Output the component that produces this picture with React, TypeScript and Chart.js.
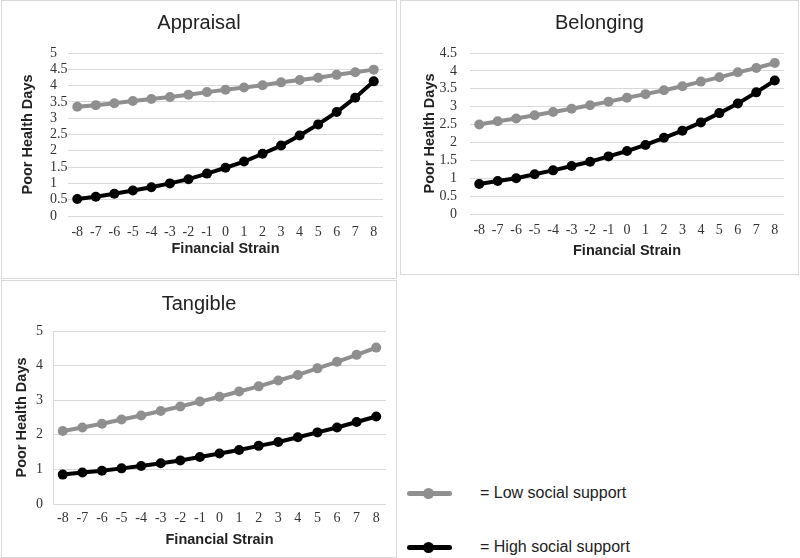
import React, { useEffect, useRef } from 'react';
import { Chart, registerables } from 'chart.js';
Chart.register(...registerables);

const categories = ['-8', '-7', '-6', '-5', '-4', '-3', '-2', '-1', '0', '1', '2', '3', '4', '5', '6', '7', '8'];

const appraisalLow = [3.35, 3.40, 3.46, 3.53, 3.59, 3.65, 3.72, 3.80, 3.87, 3.94, 4.01, 4.10, 4.17, 4.24, 4.33, 4.41, 4.49];
const appraisalHigh = [0.52, 0.59, 0.68, 0.78, 0.88, 1.00, 1.13, 1.30, 1.48, 1.67, 1.91, 2.16, 2.47, 2.81, 3.19, 3.63, 4.13];
const belongingLow = [2.50, 2.59, 2.67, 2.76, 2.85, 2.94, 3.04, 3.14, 3.25, 3.35, 3.46, 3.57, 3.70, 3.82, 3.96, 4.08, 4.22];
const belongingHigh = [0.84, 0.92, 1.00, 1.11, 1.22, 1.34, 1.46, 1.61, 1.76, 1.93, 2.13, 2.33, 2.56, 2.82, 3.09, 3.40, 3.73];
const tangibleLow = [2.11, 2.21, 2.32, 2.44, 2.56, 2.69, 2.82, 2.96, 3.10, 3.25, 3.40, 3.57, 3.73, 3.92, 4.11, 4.31, 4.52];
const tangibleHigh = [0.85, 0.91, 0.96, 1.03, 1.10, 1.18, 1.26, 1.36, 1.46, 1.56, 1.68, 1.79, 1.93, 2.07, 2.21, 2.37, 2.53];

const seriesNames = ['Low social support', 'High social support'];
const xTitle = 'Financial Strain';
const yTitle = 'Poor Health Days';

const GRAY = '#8f8f8f';
const BLACK = '#000000';
const GRID = '#d9d9d9';
const TEXT = '#222222';
const SANS = '"Liberation Sans", Arial, sans-serif';
const SERIF = '"Liberation Serif", "Times New Roman", serif';
const TICK_SIZE = 14;

type Box = { x: number; y: number; w: number; h: number };
type Plot = { l: number; r: number; t: number; b: number };

type PanelProps = {
  title: string;
  low: number[];
  high: number[];
  yMax: number;
  yStep: number;
  box: Box;
  plot: Plot;
  titleY: number;
  yTitleX: number;
  yLabelAlign: 'left' | 'right';
  yLabelEdge: number;
  xTickY: number;
  xTitleY: number;
  yBorder: boolean;
};

function Panel(p: PanelProps) {
  const ref = useRef<HTMLCanvasElement>(null);
  useEffect(() => {
    const titleLH = 20 * 1.2;
    const axisLH = 14.5 * 1.2;
    const tickLH = TICK_SIZE * 1.2;
    const boundary = p.yLabelAlign === 'left' ? p.yLabelEdge : p.yTitleX + 10;
    const ds = (label: string, data: number[], color: string) => ({
      label,
      data,
      xAxisID: 'x',
      yAxisID: 'y',
      borderColor: color,
      backgroundColor: color,
      pointBackgroundColor: color,
      pointBorderColor: color,
      borderWidth: 4,
      pointRadius: 5,
      pointBorderWidth: 0,
      tension: 0,
    });
    const chart = new Chart(ref.current as HTMLCanvasElement, {
      type: 'line',
      data: {
        labels: categories,
        datasets: [ds(seriesNames[0], p.low, GRAY), ds(seriesNames[1], p.high, BLACK)],
      },
      options: {
        responsive: false,
        maintainAspectRatio: false,
        animation: false,
        layout: { padding: 0 },
        plugins: {
          legend: { display: false },
          tooltip: { enabled: false },
          title: {
            display: true,
            text: p.title,
            color: TEXT,
            font: { family: SANS, size: 20, weight: 'normal', lineHeight: 1.2 },
            padding: { top: p.titleY - p.box.y - titleLH / 2, bottom: p.plot.t - p.titleY - titleLH / 2 },
          },
        },
        scales: {
          x: {
            type: 'category',
            offset: true,
            grid: { display: false, drawTicks: false },
            border: { display: false },
            ticks: {
              font: { family: SERIF, size: TICK_SIZE, lineHeight: 1.2 },
              color: '#333333',
              padding: p.xTickY - p.plot.b - tickLH / 2,
              maxRotation: 0,
              autoSkip: false,
            },
            title: {
              display: true,
              text: xTitle,
              color: TEXT,
              font: { family: SANS, size: 14.5, weight: 'bold', lineHeight: 1.2 },
              padding: { top: 0, bottom: p.box.y + p.box.h - p.xTitleY - axisLH / 2 },
            },
            afterFit: (s: any) => {
              s.height = p.box.y + p.box.h - p.plot.b;
            },
          },
          y: {
            type: 'linear',
            position: 'left',
            weight: 0,
            min: 0,
            max: p.yMax,
            grid: { color: GRID, lineWidth: 1, drawTicks: false },
            border: { display: p.yBorder, color: GRID, width: 1 },
            ticks: {
              stepSize: p.yStep,
              autoSkip: false,
              maxTicksLimit: 50,
              font: { family: SERIF, size: TICK_SIZE, lineHeight: 1.2 },
              color: '#333333',
              crossAlign: p.yLabelAlign === 'left' ? 'far' : 'near',
              padding: p.yLabelAlign === 'left' ? 0 : p.plot.l - p.yLabelEdge,
              callback: (v: any) => String(v),
            },
            afterFit: (s: any) => {
              s.width = p.plot.l - boundary;
            },
          },
          yT: {
            type: 'linear',
            position: 'left',
            weight: 1,
            min: 0,
            max: 1,
            grid: { display: false, drawTicks: false },
            border: { display: false },
            ticks: { display: false },
            title: {
              display: true,
              text: yTitle,
              color: TEXT,
              font: { family: SANS, size: 14.5, weight: 'bold', lineHeight: 1.2 },
              padding: { top: p.yTitleX - p.box.x - axisLH / 2, bottom: 0 },
            },
            afterFit: (s: any) => {
              s.width = boundary - p.box.x;
            },
          },
          yR: {
            type: 'linear',
            position: 'right',
            min: 0,
            max: 1,
            grid: { display: false, drawTicks: false },
            border: { display: false },
            ticks: { display: false },
            afterFit: (s: any) => {
              s.width = p.box.x + p.box.w - p.plot.r;
            },
          },
        },
      } as any,
    });
    return () => chart.destroy();
  }, []);
  return (
    <>
      <div
        style={{
          position: 'absolute',
          left: p.box.x,
          top: p.box.y,
          width: p.box.w,
          height: p.box.h,
          border: '1px solid ' + GRID,
          boxSizing: 'border-box',
        }}
      />
      <canvas
        ref={ref}
        width={p.box.w}
        height={p.box.h}
        style={{ position: 'absolute', left: p.box.x, top: p.box.y, width: p.box.w, height: p.box.h }}
      />
    </>
  );
}

function LegendItem({ color, y, text }: { color: string; y: number; text: string }) {
  return (
    <>
      <div style={{ position: 'absolute', left: 407, top: y - 2.5, width: 45, height: 5, background: color, borderRadius: 2.5 }} />
      <div style={{ position: 'absolute', left: 423, top: y - 5.5, width: 11, height: 11, background: color, borderRadius: '50%' }} />
      <div
        style={{
          position: 'absolute',
          left: 480,
          top: y - 10,
          height: 20,
          lineHeight: '20px',
          fontFamily: SANS,
          fontSize: 16,
          color: TEXT,
          whiteSpace: 'nowrap',
        }}
      >
        {'= ' + text}
      </div>
    </>
  );
}

export default function App() {
  return (
    <div style={{ position: 'fixed', left: 0, top: 0, width: 800, height: 558, background: '#fff', overflow: 'hidden' }}>
      <Panel
        title="Appraisal"
        low={appraisalLow}
        high={appraisalHigh}
        yMax={5}
        yStep={0.5}
        box={{ x: 1, y: 0, w: 396, h: 279 }}
        plot={{ l: 68, r: 383, t: 53, b: 216 }}
        titleY={23}
        yTitleX={28}
        yLabelAlign="left"
        yLabelEdge={50}
        xTickY={232}
        xTitleY={249}
        yBorder={false}
      />
      <Panel
        title="Belonging"
        low={belongingLow}
        high={belongingHigh}
        yMax={4.5}
        yStep={0.5}
        box={{ x: 400, y: 0, w: 399, h: 275 }}
        plot={{ l: 470, r: 784, t: 53, b: 214 }}
        titleY={23}
        yTitleX={430}
        yLabelAlign="right"
        yLabelEdge={457}
        xTickY={230}
        xTitleY={251}
        yBorder={false}
      />
      <Panel
        title="Tangible"
        low={tangibleLow}
        high={tangibleHigh}
        yMax={5}
        yStep={1}
        box={{ x: 1, y: 280, w: 396, h: 278 }}
        plot={{ l: 53, r: 386, t: 331, b: 504 }}
        titleY={304}
        yTitleX={22}
        yLabelAlign="right"
        yLabelEdge={43}
        xTickY={518}
        xTitleY={540}
        yBorder={true}
      />
      <LegendItem color={GRAY} y={493} text={seriesNames[0]} />
      <LegendItem color={BLACK} y={547} text={seriesNames[1]} />
    </div>
  );
}
